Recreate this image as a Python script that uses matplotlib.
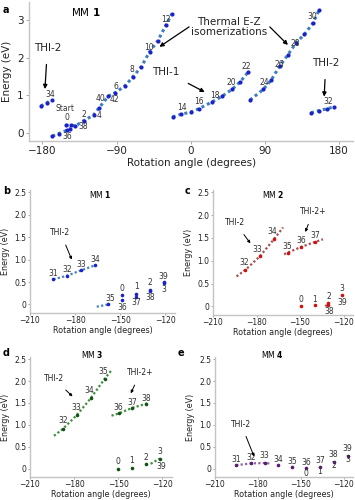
import matplotlib
matplotlib.use("Agg")
import matplotlib.pyplot as plt

W, H = 355, 500


def px(x, y):
    return x / W, 1 - y / H


# ---- panel a: MM 1 full rotation ----
a_segments = [
    ([-152, -145, -140, -130, -118, -111, -100, -92, -80, -70, -60, -50, -40, -30, -23],
     [0.21, 0.21, 0.19, 0.33, 0.48, 0.68, 0.98, 1.07, 1.25, 1.5, 1.76, 2.16, 2.45, 2.87, 3.16]),
    ([-168, -160, -150, -146], [-0.08, -0.01, 0.08, 0.12]),
    ([-182, -175, -169], [0.72, 0.8, 0.88]),
    ([-22, -12, 0, 10, 26, 38, 50, 60, 70], [0.43, 0.5, 0.56, 0.65, 0.83, 0.98, 1.16, 1.36, 1.63]),
    ([72, 88, 98, 108, 118, 128, 138, 148, 156], [0.88, 1.16, 1.42, 1.78, 2.08, 2.4, 2.62, 2.91, 3.27]),
    ([146, 156, 166, 174], [0.54, 0.6, 0.65, 0.7]),
]
a_labels = [("Start", -153, 0.65), ("0", -150, 0.42), ("36", -150, -0.1), ("38", -130, 0.17),
            ("2", -130, 0.5), ("4", -111, 0.48), ("40", -110, 0.92), ("42", -93, 0.88),
            ("6", -91, 1.25), ("8", -71, 1.69), ("10", -51, 2.27), ("12", -30, 3.02),
            ("34", -171, 1.03), ("14", -11, 0.68), ("16", 10, 0.83), ("18", 29, 1.01),
            ("20", 49, 1.34), ("22", 68, 1.76), ("24", 89, 1.34), ("26", 108, 1.81),
            ("28", 127, 2.38), ("30", 148, 3.1), ("32", 167, 0.83)]
# text, text pos, arrow head
a_notes = [("THI-2", (-174, 2.25), (-177, 1.17)),
           ("THI-1", (-30, 1.63), (17, 1.09)),
           ("THI-2", (164, 1.85), (162, 0.97))]

# ---- panels b-e: zoom on -210..-120 ----
b_lines = [([-194.4, -185.4, -176.1, -166.9], [0.56, 0.64, 0.76, 0.87]),
           ([-165.6, -158], [-0.05, 0.0])]
b_points = ([-194.4, -185.4, -176.1, -166.9, -158, -148.5, -148.5, -139.3, -139.3, -130.3, -130.3, -121.1, -121.1],
            [0.56, 0.64, 0.76, 0.87, 0.0, 0.22, 0.09, 0.24, 0.17, 0.33, 0.30, 0.50, 0.47])
b_labels = [("31", -194.4, 0.69), ("32", -185.3, 0.78), ("33", -176, 0.89), ("34", -166.7, 1.0),
            ("35", -156.8, 0.13), ("0", -148.5, 0.35), ("36", -148.5, -0.07), ("1", -139.3, 0.39),
            ("37", -139.3, 0.05), ("2", -130.3, 0.48), ("38", -130.3, 0.15), ("39", -121.1, 0.63),
            ("3", -121.1, 0.33)]
b_notes = [("THI-2", (-189.7, 1.6), (-182.2, 1.0))]

c_lines = [([-193.8, -187.6, -177.6, -168, -161.7], [0.655, 0.80, 1.10, 1.47, 1.73]),
           ([-161, -158.4, -149.3, -139.8, -134.2], [1.14, 1.18, 1.30, 1.41, 1.47]),
           ([-132.6, -130.4], [0.0, 0.06])]
c_points = ([-187.6, -177.6, -168, -158.4, -149.3, -139.8, -149.3, -139.8, -130.4, -130.4, -121.1],
            [0.80, 1.10, 1.47, 1.18, 1.30, 1.41, 0.0, 0.02, 0.08, 0.04, 0.24])
c_labels = [("32", -188.7, 0.97), ("33", -179.3, 1.24), ("34", -169.1, 1.65), ("35", -158.7, 1.32),
            ("36", -149.1, 1.45), ("37", -139.8, 1.56), ("0", -149.1, 0.14), ("1", -139.8, 0.16),
            ("2", -130.2, 0.22), ("38", -130.2, -0.12), ("3", -120.9, 0.38), ("39", -120.9, 0.09)]
c_notes = [("THI-2", (-194.7, 1.83), (-184.2, 1.38)),
           ("THI-2+", (-140.9, 2.07), (-146.4, 1.63))]

d_lines = [([-193.7, -187.6, -178, -168.7, -159.3, -154.6], [0.75, 0.91, 1.23, 1.61, 2.05, 2.25]),
           ([-154.6, -149.8, -140.4, -131.3, -129.6], [1.21, 1.26, 1.39, 1.48, 1.50]),
           ([-128, -121.9], [0.11, 0.23])]
d_points = ([-187.6, -178, -168.7, -159.3, -149.8, -140.4, -131.3, -150.2, -140.9, -131.3, -121.9],
            [0.91, 1.23, 1.61, 2.05, 1.26, 1.39, 1.48, 0.0, 0.02, 0.10, 0.22])
d_labels = [("32", -187.6, 1.10), ("33", -178.5, 1.40), ("34", -169.4, 1.79), ("35", -160, 2.23),
            ("36", -149.8, 1.40), ("37", -140.4, 1.51), ("38", -131.3, 1.61), ("0", -150.2, 0.16),
            ("1", -140.9, 0.18), ("2", -131.3, 0.26), ("3", -121.9, 0.40), ("39", -120.8, 0.05)]
d_notes = [("THI-2", (-193.7, 2.05), (-181.1, 1.65)),
           ("THI-2+", (-135, 2.19), (-141.5, 1.72))]

e_lines = [([-195.2, -185, -175.2, -172], [0.08, 0.12, 0.13, 0.12])]
e_points = ([-195.2, -185, -175.2, -165.7, -155.9, -146.4, -136.6, -127.1, -117.3],
            [0.08, 0.12, 0.13, 0.08, 0.04, 0.01, 0.04, 0.15, 0.28])
e_labels = [("31", -195.2, 0.22), ("32", -185, 0.25), ("33", -175.2, 0.30), ("34", -165.7, 0.22),
            ("35", -155.9, 0.17), ("36", -146.4, 0.15), ("0", -146.4, -0.1), ("37", -136.6, 0.19),
            ("1", -136.6, -0.07), ("38", -127.1, 0.32), ("2", -127.1, 0.07), ("39", -117.3, 0.46),
            ("3", -117.3, 0.21)]
e_notes = [("THI-2", (-191.8, 1.02), (-182.7, 0.28))]

SPINE = "#c4c4c4"


def style_axes(ax, fs, ln=2, pad=2):
    for s in ("top", "right"):
        ax.spines[s].set_visible(False)
    for s in ("left", "bottom"):
        ax.spines[s].set_color(SPINE)
        ax.spines[s].set_linewidth(1.0)
    ax.tick_params(direction="out", length=ln, width=0.6, color="#999999",
                   labelsize=fs, labelcolor="#222222", pad=pad)


fig = plt.figure(figsize=(W / 100, H / 100), dpi=100)

# panel a
ax = fig.add_axes([29.3 / W, 1 - 140.7 / H, 323.7 / W, 138.7 / H])
for ang, en in a_segments:
    ax.plot(ang, en, linestyle=(0, (1, 1)), lw=2.2, color="#3f7fc0", zorder=2)
    ax.plot(ang, en, "o", ms=3, color="#1a22c8", mec="none", zorder=3)
for t, x, y in a_labels:
    ax.text(x, y, t, fontsize=5.5, color="#333333", ha="center", va="center")
for t, xy_t, xy_h in a_notes:
    ax.annotate(t, xy=xy_h, xytext=xy_t, fontsize=7.5, ha="center", va="center", color="#222222",
                arrowprops=dict(arrowstyle="-|>", color="black", lw=0.9, mutation_scale=6,
                                shrinkA=6, shrinkB=0))
ax.text(46, 2.82, "Thermal E-Z\nisomerizations", fontsize=7.5, ha="center", va="center",
        color="#222222", linespacing=1.0)
for head in [(-38, 2.29), (118, 2.34)]:
    tail = (-2, 2.82) if head[0] < 0 else (96, 2.82)
    ax.annotate("", xy=head, xytext=tail,
                arrowprops=dict(arrowstyle="-|>", color="black", lw=0.9, mutation_scale=6,
                                shrinkA=0, shrinkB=0))
ax.set_xlim(-196, 197)
ax.set_ylim(-0.2, 3.48)
ax.set_xticks([-180, -90, 0, 90, 180])
ax.set_yticks([0, 1, 2, 3])
style_axes(ax, 7.5)
ax.set_xlabel("Rotation angle (degrees)", fontsize=7.5, labelpad=1, color="#222222")
ax.set_ylabel("Energy (eV)", fontsize=7.5, labelpad=4, color="#222222")
fig.text(*px(3, 10), "a", fontsize=7, fontweight="bold", va="center")
fig.text(*px(86, 12), r"MM $\mathbf{1}$", fontsize=7.5, va="center", ha="center")

small = [
    ("b", "1", [30, 190, 175, 313], b_lines, b_points, b_labels, b_notes, "#1a22c8", "#4a7fc0", (3, 191), (100, 195)),
    ("c", "2", [213, 190, 353, 315], c_lines, c_points, c_labels, c_notes, "#d01010", "#a55050", (185, 191), (273, 195)),
    ("d", "3", [30, 357, 172, 477], d_lines, d_points, d_labels, d_notes, "#145214", "#3f8f3f", (3, 353), (92, 355)),
    ("e", "4", [215, 357, 353, 477], e_lines, e_points, e_labels, e_notes, "#5a1a6e", "#8a6a9a", (178, 353), (272, 355)),
]
for letter, mm, (x0, y0, x1, y1), lines, pts, labels, notes, mc, lc, lpos, tpos in small:
    ax = fig.add_axes([x0 / W, 1 - y1 / H, (x1 - x0) / W, (y1 - y0) / H])
    for ang, en in lines:
        ax.plot(ang, en, linestyle=(0, (1, 1)), lw=1.6, color=lc, zorder=2)
    ax.plot(pts[0], pts[1], "o", ms=2.6, color=mc, mec="none", zorder=3)
    for t, x, y in labels:
        ax.text(x, y, t, fontsize=5.5, color="#333333", ha="center", va="center")
    for t, xy_t, xy_h in notes:
        ax.annotate(t, xy=xy_h, xytext=xy_t, fontsize=5.5, ha="center", va="center", color="#222222",
                    arrowprops=dict(arrowstyle="-|>", color="black", lw=0.7, mutation_scale=4,
                                    shrinkA=4, shrinkB=0))
    ax.set_xlim(-207, -113.5)
    ax.set_ylim(-0.19, 2.55)
    ax.set_xticks([-210, -180, -150, -120])
    ax.set_yticks([0, 0.5, 1.0, 1.5, 2.0, 2.5])
    ax.set_yticklabels(["0", "0.5", "1.0", "1.5", "2.0", "2.5"])
    style_axes(ax, 5.5, ln=1.5, pad=1)
    ax.set_xlabel("Rotation angle (degrees)", fontsize=5.8, labelpad=0.5, color="#222222")
    ax.set_ylabel("Energy (eV)", fontsize=5.8, labelpad=3, color="#222222")
    fig.text(*px(*lpos), letter, fontsize=7, fontweight="bold", va="center")
    fig.text(*px(*tpos), r"MM $\mathbf{" + mm + "}$", fontsize=5.5, va="center", ha="center")

fig.savefig("out.png", dpi=100)
